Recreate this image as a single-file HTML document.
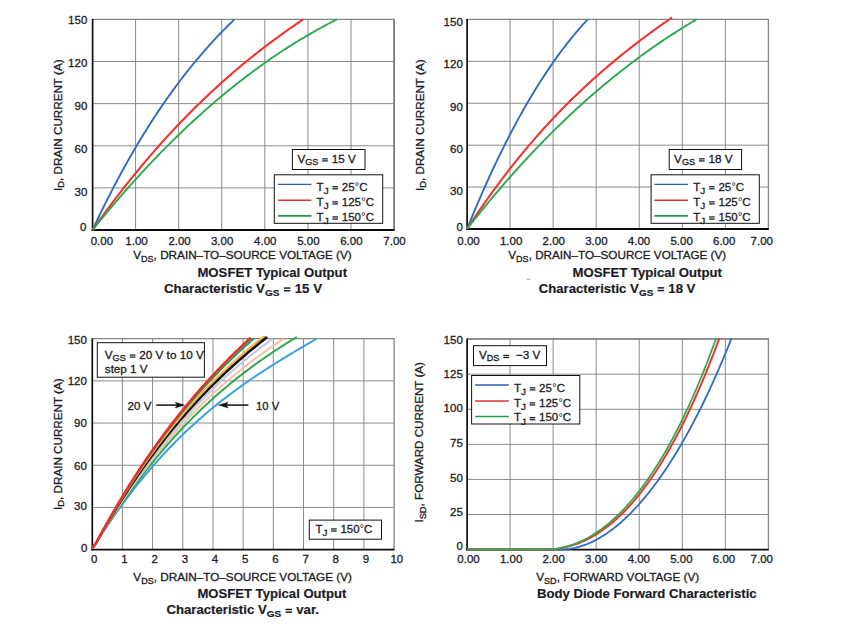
<!DOCTYPE html>
<html lang="en">
<head>
<meta charset="utf-8">
<title>MOSFET Typical Characteristics</title>
<style>
html,body{margin:0;padding:0;background:#ffffff;}
body{width:854px;height:639px;overflow:hidden;font-family:"Liberation Sans",sans-serif;}
svg{display:block;font-family:"Liberation Sans",sans-serif;}
svg text{font-family:"Liberation Sans",sans-serif;white-space:pre;}
</style>
</head>
<body>
<svg width="854" height="639" viewBox="0 0 854 639">
<rect x="0" y="0" width="854" height="639" fill="#ffffff"/>
<line x1="135.59" y1="19.40" x2="135.59" y2="230.00" stroke="#858585" stroke-width="0.95" stroke-linecap="butt"/>
<line x1="178.67" y1="19.40" x2="178.67" y2="230.00" stroke="#858585" stroke-width="0.95" stroke-linecap="butt"/>
<line x1="221.76" y1="19.40" x2="221.76" y2="230.00" stroke="#858585" stroke-width="0.95" stroke-linecap="butt"/>
<line x1="264.84" y1="19.40" x2="264.84" y2="230.00" stroke="#858585" stroke-width="0.95" stroke-linecap="butt"/>
<line x1="307.93" y1="19.40" x2="307.93" y2="230.00" stroke="#858585" stroke-width="0.95" stroke-linecap="butt"/>
<line x1="351.01" y1="19.40" x2="351.01" y2="230.00" stroke="#858585" stroke-width="0.95" stroke-linecap="butt"/>
<line x1="92.50" y1="61.52" x2="394.10" y2="61.52" stroke="#858585" stroke-width="0.95" stroke-linecap="butt"/>
<line x1="92.50" y1="103.64" x2="394.10" y2="103.64" stroke="#858585" stroke-width="0.95" stroke-linecap="butt"/>
<line x1="92.50" y1="145.76" x2="394.10" y2="145.76" stroke="#858585" stroke-width="0.95" stroke-linecap="butt"/>
<line x1="92.50" y1="187.88" x2="394.10" y2="187.88" stroke="#858585" stroke-width="0.95" stroke-linecap="butt"/>
<line x1="92.50" y1="19.40" x2="394.70" y2="19.40" stroke="#858585" stroke-width="1.20" stroke-linecap="butt"/>
<line x1="394.10" y1="19.40" x2="394.10" y2="230.00" stroke="#727272" stroke-width="1.70" stroke-linecap="butt"/>
<line x1="92.60" y1="18.90" x2="92.60" y2="230.90" stroke="#0d0d0d" stroke-width="1.70" stroke-linecap="butt"/>
<line x1="91.60" y1="230.00" x2="394.50" y2="230.00" stroke="#0d0d0d" stroke-width="1.90" stroke-linecap="butt"/>
<path d="M92.50,230.00 L94.01,226.78 L95.52,223.59 L97.03,220.42 L98.54,217.28 L100.05,214.16 L101.56,211.06 L103.07,207.99 L104.58,204.95 L106.09,201.93 L107.60,198.93 L109.11,195.96 L110.61,193.01 L112.12,190.08 L113.63,187.18 L115.14,184.30 L116.65,181.44 L118.16,178.61 L119.67,175.80 L121.18,173.02 L122.69,170.25 L124.20,167.51 L125.71,164.79 L127.22,162.10 L128.73,159.42 L130.24,156.77 L131.75,154.14 L133.26,151.53 L134.77,148.94 L136.28,146.38 L137.79,143.83 L139.30,141.31 L140.81,138.81 L142.32,136.33 L143.83,133.87 L145.34,131.43 L146.84,129.01 L148.35,126.61 L149.86,124.24 L151.37,121.88 L152.88,119.54 L154.39,117.22 L155.90,114.92 L157.41,112.65 L158.92,110.39 L160.43,108.15 L161.94,105.93 L163.45,103.73 L164.96,101.55 L166.47,99.38 L167.98,97.24 L169.49,95.11 L171.00,93.01 L172.51,90.92 L174.02,88.85 L175.53,86.79 L177.04,84.76 L178.55,82.74 L180.06,80.74 L181.56,78.76 L183.07,76.80 L184.58,74.85 L186.09,72.92 L187.60,71.01 L189.11,69.11 L190.62,67.23 L192.13,65.37 L193.64,63.52 L195.15,61.69 L196.66,59.88 L198.17,58.08 L199.68,56.30 L201.19,54.53 L202.70,52.78 L204.21,51.05 L205.72,49.33 L207.23,47.62 L208.74,45.93 L210.25,44.26 L211.76,42.60 L213.27,40.95 L214.78,39.32 L216.29,37.71 L217.79,36.11 L219.30,34.52 L220.81,32.95 L222.32,31.39 L223.83,29.84 L225.34,28.31 L226.85,26.79 L228.36,25.29 L229.87,23.80 L231.38,22.32 L232.89,20.85 L234.40,19.40" fill="none" stroke="#2f6cc0" stroke-width="1.90" stroke-linejoin="round" stroke-linecap="butt"/>
<path d="M92.50,230.00 L94.01,227.87 L95.51,225.75 L97.02,223.64 L98.52,221.54 L100.03,219.46 L101.53,217.38 L103.04,215.32 L104.55,213.26 L106.05,211.22 L107.56,209.18 L109.06,207.16 L110.57,205.15 L112.07,203.14 L113.58,201.15 L115.09,199.17 L116.59,197.20 L118.10,195.23 L119.60,193.28 L121.11,191.34 L122.61,189.41 L124.12,187.49 L125.63,185.58 L127.13,183.68 L128.64,181.79 L130.14,179.90 L131.65,178.03 L133.15,176.17 L134.66,174.32 L136.17,172.48 L137.67,170.65 L139.18,168.82 L140.68,167.01 L142.19,165.21 L143.69,163.41 L145.20,161.63 L146.71,159.85 L148.21,158.09 L149.72,156.33 L151.22,154.58 L152.73,152.85 L154.23,151.12 L155.74,149.40 L157.25,147.69 L158.75,145.99 L160.26,144.30 L161.76,142.62 L163.27,140.94 L164.77,139.28 L166.28,137.62 L167.79,135.98 L169.29,134.34 L170.80,132.71 L172.30,131.09 L173.81,129.48 L175.31,127.88 L176.82,126.28 L178.33,124.70 L179.83,123.12 L181.34,121.55 L182.84,120.00 L184.35,118.44 L185.85,116.90 L187.36,115.37 L188.87,113.84 L190.37,112.33 L191.88,110.82 L193.38,109.32 L194.89,107.82 L196.39,106.34 L197.90,104.86 L199.41,103.39 L200.91,101.93 L202.42,100.48 L203.92,99.04 L205.43,97.60 L206.93,96.17 L208.44,94.75 L209.95,93.34 L211.45,91.94 L212.96,90.54 L214.46,89.15 L215.97,87.77 L217.47,86.39 L218.98,85.03 L220.49,83.67 L221.99,82.32 L223.50,80.97 L225.00,79.64 L226.51,78.31 L228.01,76.99 L229.52,75.67 L231.03,74.36 L232.53,73.06 L234.04,71.77 L235.54,70.49 L237.05,69.21 L238.55,67.94 L240.06,66.67 L241.57,65.41 L243.07,64.16 L244.58,62.92 L246.08,61.68 L247.59,60.45 L249.09,59.23 L250.60,58.01 L252.11,56.81 L253.61,55.60 L255.12,54.41 L256.62,53.22 L258.13,52.03 L259.63,50.86 L261.14,49.69 L262.65,48.52 L264.15,47.37 L265.66,46.21 L267.16,45.07 L268.67,43.93 L270.17,42.80 L271.68,41.67 L273.19,40.55 L274.69,39.44 L276.20,38.33 L277.70,37.23 L279.21,36.14 L280.71,35.05 L282.22,33.96 L283.73,32.89 L285.23,31.81 L286.74,30.75 L288.24,29.69 L289.75,28.63 L291.25,27.59 L292.76,26.54 L294.27,25.51 L295.77,24.47 L297.28,23.45 L298.78,22.43 L300.29,21.41 L301.79,20.40 L303.30,19.40" fill="none" stroke="#f0352f" stroke-width="2.10" stroke-linejoin="round" stroke-linecap="butt"/>
<path d="M92.50,230.00 L94.00,228.14 L95.50,226.28 L97.00,224.43 L98.50,222.59 L100.00,220.76 L101.50,218.93 L103.00,217.11 L104.50,215.30 L106.00,213.50 L107.50,211.70 L109.00,209.91 L110.50,208.13 L112.00,206.36 L113.50,204.59 L115.00,202.83 L116.50,201.08 L118.00,199.33 L119.50,197.60 L121.00,195.87 L122.50,194.14 L124.00,192.43 L125.50,190.72 L127.00,189.02 L128.50,187.33 L130.00,185.64 L131.50,183.96 L133.00,182.29 L134.50,180.63 L136.00,178.97 L137.50,177.32 L139.00,175.68 L140.50,174.04 L142.00,172.41 L143.50,170.79 L145.00,169.18 L146.50,167.57 L148.00,165.97 L149.50,164.38 L151.00,162.80 L152.50,161.22 L154.00,159.65 L155.50,158.09 L157.00,156.53 L158.50,154.98 L160.00,153.44 L161.50,151.90 L163.00,150.38 L164.50,148.86 L166.00,147.34 L167.50,145.84 L169.00,144.34 L170.50,142.84 L172.00,141.36 L173.50,139.88 L175.00,138.41 L176.50,136.95 L178.00,135.49 L179.50,134.04 L181.00,132.60 L182.50,131.16 L184.00,129.73 L185.50,128.31 L187.00,126.90 L188.50,125.49 L190.00,124.09 L191.50,122.69 L193.00,121.31 L194.50,119.93 L196.00,118.55 L197.50,117.19 L199.00,115.83 L200.50,114.48 L202.00,113.13 L203.50,111.79 L205.00,110.46 L206.50,109.14 L208.00,107.82 L209.50,106.51 L211.00,105.20 L212.50,103.91 L214.00,102.62 L215.50,101.33 L217.00,100.06 L218.50,98.79 L220.00,97.53 L221.50,96.27 L223.00,95.02 L224.50,93.78 L226.00,92.54 L227.50,91.31 L229.00,90.09 L230.50,88.88 L232.00,87.67 L233.50,86.47 L235.00,85.27 L236.50,84.08 L238.00,82.90 L239.50,81.73 L241.00,80.56 L242.50,79.40 L244.00,78.24 L245.50,77.09 L247.00,75.95 L248.50,74.82 L250.00,73.69 L251.50,72.57 L253.00,71.45 L254.50,70.34 L256.00,69.24 L257.50,68.15 L259.00,67.06 L260.50,65.98 L262.00,64.90 L263.50,63.84 L265.00,62.77 L266.50,61.72 L268.00,60.67 L269.50,59.63 L271.00,58.59 L272.50,57.56 L274.00,56.54 L275.50,55.52 L277.00,54.51 L278.50,53.51 L280.00,52.52 L281.50,51.53 L283.00,50.54 L284.50,49.57 L286.00,48.60 L287.50,47.63 L289.00,46.67 L290.50,45.72 L292.00,44.78 L293.50,43.84 L295.00,42.91 L296.50,41.98 L298.00,41.06 L299.50,40.15 L301.00,39.25 L302.50,38.35 L304.00,37.45 L305.50,36.57 L307.00,35.68 L308.50,34.81 L310.00,33.94 L311.50,33.08 L313.00,32.23 L314.50,31.38 L316.00,30.53 L317.50,29.70 L319.00,28.87 L320.50,28.04 L322.00,27.23 L323.50,26.42 L325.00,25.61 L326.50,24.81 L328.00,24.02 L329.50,23.23 L331.00,22.45 L332.50,21.68 L334.00,20.91 L335.50,20.15 L337.00,19.40" fill="none" stroke="#2ea84e" stroke-width="1.90" stroke-linejoin="round" stroke-linecap="butt"/>
<g transform="translate(68.11,23.80) scale(1.0000,1)" fill="#1b1b26" stroke="#1b1b26" stroke-width="0.30" font-size="11.50"><text x="0.00" y="0" xml:space="preserve">150</text></g>
<g transform="translate(68.11,67.00) scale(1.0000,1)" fill="#1b1b26" stroke="#1b1b26" stroke-width="0.30" font-size="11.50"><text x="0.00" y="0" xml:space="preserve">120</text></g>
<g transform="translate(74.51,110.40) scale(1.0000,1)" fill="#1b1b26" stroke="#1b1b26" stroke-width="0.30" font-size="11.50"><text x="0.00" y="0" xml:space="preserve">90</text></g>
<g transform="translate(74.51,152.60) scale(1.0000,1)" fill="#1b1b26" stroke="#1b1b26" stroke-width="0.30" font-size="11.50"><text x="0.00" y="0" xml:space="preserve">60</text></g>
<g transform="translate(74.51,195.50) scale(1.0000,1)" fill="#1b1b26" stroke="#1b1b26" stroke-width="0.30" font-size="11.50"><text x="0.00" y="0" xml:space="preserve">30</text></g>
<g transform="translate(80.00,231.30) scale(1.0000,1)" fill="#1b1b26" stroke="#1b1b26" stroke-width="0.30" font-size="11.50"><text x="0.00" y="0" xml:space="preserve">0</text></g>
<g transform="translate(90.71,245.00) scale(1.0000,1)" fill="#1b1b26" stroke="#1b1b26" stroke-width="0.30" font-size="11.50"><text x="0.00" y="0" xml:space="preserve">0.00</text></g>
<g transform="translate(125.29,245.00) scale(1.0000,1)" fill="#1b1b26" stroke="#1b1b26" stroke-width="0.30" font-size="11.50"><text x="0.00" y="0" xml:space="preserve">1.00</text></g>
<g transform="translate(168.38,245.00) scale(1.0000,1)" fill="#1b1b26" stroke="#1b1b26" stroke-width="0.30" font-size="11.50"><text x="0.00" y="0" xml:space="preserve">2.00</text></g>
<g transform="translate(210.96,245.00) scale(1.0000,1)" fill="#1b1b26" stroke="#1b1b26" stroke-width="0.30" font-size="11.50"><text x="0.00" y="0" xml:space="preserve">3.00</text></g>
<g transform="translate(254.05,245.00) scale(1.0000,1)" fill="#1b1b26" stroke="#1b1b26" stroke-width="0.30" font-size="11.50"><text x="0.00" y="0" xml:space="preserve">4.00</text></g>
<g transform="translate(297.14,245.00) scale(1.0000,1)" fill="#1b1b26" stroke="#1b1b26" stroke-width="0.30" font-size="11.50"><text x="0.00" y="0" xml:space="preserve">5.00</text></g>
<g transform="translate(340.22,245.00) scale(1.0000,1)" fill="#1b1b26" stroke="#1b1b26" stroke-width="0.30" font-size="11.50"><text x="0.00" y="0" xml:space="preserve">6.00</text></g>
<g transform="translate(383.31,245.00) scale(1.0000,1)" fill="#1b1b26" stroke="#1b1b26" stroke-width="0.30" font-size="11.50"><text x="0.00" y="0" xml:space="preserve">7.00</text></g>
<g transform="translate(61.50,191.00) rotate(-90) scale(1.0140,1)" fill="#1b1b26" stroke="#1b1b26" stroke-width="0.30" font-size="11.50"><text x="0.00" y="0" xml:space="preserve">I</text><text x="3.20" y="2.60" font-size="9.20" xml:space="preserve">D</text><text x="9.88" y="0" xml:space="preserve">, DRAIN CURRENT (A)</text></g>
<g transform="translate(133.20,259.20) scale(1.0207,1)" fill="#1b1b26" stroke="#1b1b26" stroke-width="0.30" font-size="11.50"><text x="0.00" y="0" xml:space="preserve">V</text><text x="7.67" y="2.90" font-size="8.86" xml:space="preserve">DS</text><text x="20.00" y="0" xml:space="preserve">, DRAIN–TO–SOURCE VOLTAGE (V)</text></g>
<g transform="translate(197.40,276.80) scale(1.0127,1)" fill="#1b1b26" stroke="#1b1b26" stroke-width="0.18" font-size="13.00" font-weight="bold"><text x="0.00" y="0" xml:space="preserve">MOSFET Typical Output</text></g>
<g transform="translate(164.00,292.90) scale(1.0205,1)" fill="#1b1b26" stroke="#1b1b26" stroke-width="0.18" font-size="13.00" font-weight="bold"><text x="0.00" y="0" xml:space="preserve">Characteristic V</text><text x="99.00" y="3.00" font-size="9.88" xml:space="preserve">GS</text><text x="113.26" y="0" xml:space="preserve"> </text><rect x="117.49" y="-2.87" width="6.37" height="1.46" stroke="none"/><rect x="117.49" y="-5.56" width="6.37" height="1.46" stroke="none"/><text x="124.47" y="0" xml:space="preserve"> 15 V</text></g>
<rect x="292.40" y="149.50" width="72.60" height="20.00" fill="#fff" stroke="#111" stroke-width="1.00"/>
<g transform="translate(297.40,162.60) scale(1.0150,1)" fill="#1b1b26" stroke="#1b1b26" stroke-width="0.30" font-size="11.50"><text x="0.00" y="0" xml:space="preserve">V</text><text x="7.67" y="1.90" font-size="8.97" xml:space="preserve">GS</text><text x="20.67" y="0" xml:space="preserve"> </text><rect x="24.44" y="-2.30" width="5.58" height="1.24" stroke="none"/><rect x="24.44" y="-4.36" width="5.58" height="1.24" stroke="none"/><text x="30.59" y="0" xml:space="preserve"> 15 V</text></g>
<rect x="274.30" y="174.80" width="108.40" height="48.50" fill="#fff" stroke="#111" stroke-width="1.00"/>
<line x1="278.10" y1="184.30" x2="311.40" y2="184.30" stroke="#2a5fb0" stroke-width="1.35" stroke-linecap="butt"/>
<line x1="278.10" y1="200.30" x2="311.40" y2="200.30" stroke="#e8302c" stroke-width="1.40" stroke-linecap="butt"/>
<line x1="278.10" y1="215.90" x2="311.40" y2="215.90" stroke="#279a48" stroke-width="1.60" stroke-linecap="butt"/>
<g transform="translate(316.60,190.50) scale(1.0026,1)" fill="#1b1b26" stroke="#1b1b26" stroke-width="0.30" font-size="11.50"><text x="0.00" y="0" xml:space="preserve">T</text><text x="7.03" y="3.40" font-size="9.89" xml:space="preserve">J</text><text x="11.96" y="0" xml:space="preserve"> </text><rect x="15.73" y="-2.30" width="5.58" height="1.24" stroke="none"/><rect x="15.73" y="-4.36" width="5.58" height="1.24" stroke="none"/><text x="21.88" y="0" xml:space="preserve"> 25</text><text x="38.09" y="-0.40" font-size="10.81" stroke-width="0.05">°</text><text x="42.46" y="0" xml:space="preserve">C</text></g>
<g transform="translate(316.60,205.60) scale(1.0041,1)" fill="#1b1b26" stroke="#1b1b26" stroke-width="0.30" font-size="11.50"><text x="0.00" y="0" xml:space="preserve">T</text><text x="7.03" y="3.40" font-size="9.89" xml:space="preserve">J</text><text x="11.96" y="0" xml:space="preserve"> </text><rect x="15.73" y="-2.30" width="5.58" height="1.24" stroke="none"/><rect x="15.73" y="-4.36" width="5.58" height="1.24" stroke="none"/><text x="21.88" y="0" xml:space="preserve"> 125</text><text x="44.49" y="-0.40" font-size="10.81" stroke-width="0.05">°</text><text x="48.86" y="0" xml:space="preserve">C</text></g>
<g transform="translate(316.60,220.70) scale(1.0041,1)" fill="#1b1b26" stroke="#1b1b26" stroke-width="0.30" font-size="11.50"><text x="0.00" y="0" xml:space="preserve">T</text><text x="7.03" y="3.40" font-size="9.89" xml:space="preserve">J</text><text x="11.96" y="0" xml:space="preserve"> </text><rect x="15.73" y="-2.30" width="5.58" height="1.24" stroke="none"/><rect x="15.73" y="-4.36" width="5.58" height="1.24" stroke="none"/><text x="21.88" y="0" xml:space="preserve"> 150</text><text x="44.49" y="-0.40" font-size="10.81" stroke-width="0.05">°</text><text x="48.86" y="0" xml:space="preserve">C</text></g>
<line x1="510.06" y1="19.40" x2="510.06" y2="229.00" stroke="#858585" stroke-width="0.95" stroke-linecap="butt"/>
<line x1="553.11" y1="19.40" x2="553.11" y2="229.00" stroke="#858585" stroke-width="0.95" stroke-linecap="butt"/>
<line x1="596.17" y1="19.40" x2="596.17" y2="229.00" stroke="#858585" stroke-width="0.95" stroke-linecap="butt"/>
<line x1="639.23" y1="19.40" x2="639.23" y2="229.00" stroke="#858585" stroke-width="0.95" stroke-linecap="butt"/>
<line x1="682.29" y1="19.40" x2="682.29" y2="229.00" stroke="#858585" stroke-width="0.95" stroke-linecap="butt"/>
<line x1="725.34" y1="19.40" x2="725.34" y2="229.00" stroke="#858585" stroke-width="0.95" stroke-linecap="butt"/>
<line x1="467.00" y1="61.32" x2="768.40" y2="61.32" stroke="#858585" stroke-width="0.95" stroke-linecap="butt"/>
<line x1="467.00" y1="103.24" x2="768.40" y2="103.24" stroke="#858585" stroke-width="0.95" stroke-linecap="butt"/>
<line x1="467.00" y1="145.16" x2="768.40" y2="145.16" stroke="#858585" stroke-width="0.95" stroke-linecap="butt"/>
<line x1="467.00" y1="187.08" x2="768.40" y2="187.08" stroke="#858585" stroke-width="0.95" stroke-linecap="butt"/>
<line x1="467.00" y1="19.40" x2="769.00" y2="19.40" stroke="#858585" stroke-width="1.20" stroke-linecap="butt"/>
<line x1="768.40" y1="19.40" x2="768.40" y2="229.00" stroke="#858585" stroke-width="1.30" stroke-linecap="butt"/>
<line x1="467.10" y1="18.90" x2="467.10" y2="229.90" stroke="#0d0d0d" stroke-width="1.70" stroke-linecap="butt"/>
<line x1="466.10" y1="229.00" x2="768.80" y2="229.00" stroke="#0d0d0d" stroke-width="1.90" stroke-linecap="butt"/>
<path d="M467.00,229.00 L468.51,225.27 L470.02,221.57 L471.53,217.91 L473.04,214.27 L474.55,210.66 L476.06,207.09 L477.57,203.54 L479.08,200.03 L480.59,196.54 L482.10,193.09 L483.61,189.66 L485.12,186.26 L486.63,182.90 L488.14,179.56 L489.65,176.26 L491.16,172.98 L492.67,169.73 L494.18,166.51 L495.69,163.32 L497.20,160.16 L498.71,157.03 L500.22,153.92 L501.73,150.85 L503.24,147.80 L504.75,144.78 L506.26,141.79 L507.77,138.83 L509.28,135.89 L510.79,132.99 L512.30,130.11 L513.81,127.26 L515.32,124.44 L516.83,121.64 L518.34,118.87 L519.85,116.13 L521.36,113.42 L522.87,110.73 L524.38,108.07 L525.89,105.44 L527.40,102.83 L528.91,100.25 L530.42,97.70 L531.93,95.17 L533.44,92.67 L534.95,90.20 L536.46,87.75 L537.97,85.33 L539.48,82.93 L540.99,80.56 L542.50,78.22 L544.01,75.90 L545.52,73.61 L547.03,71.34 L548.54,69.10 L550.05,66.88 L551.56,64.69 L553.07,62.52 L554.58,60.38 L556.09,58.26 L557.60,56.17 L559.11,54.10 L560.62,52.05 L562.13,50.03 L563.64,48.04 L565.15,46.06 L566.66,44.12 L568.17,42.19 L569.68,40.29 L571.19,38.41 L572.70,36.56 L574.21,34.73 L575.72,32.93 L577.23,31.14 L578.74,29.38 L580.25,27.64 L581.76,25.93 L583.27,24.24 L584.78,22.57 L586.29,20.92 L587.80,19.30" fill="none" stroke="#2f6cc0" stroke-width="1.90" stroke-linejoin="round" stroke-linecap="butt"/>
<path d="M467.00,229.00 L468.51,226.69 L470.02,224.40 L471.52,222.12 L473.03,219.86 L474.54,217.61 L476.05,215.38 L477.56,213.16 L479.06,210.95 L480.57,208.76 L482.08,206.58 L483.59,204.42 L485.10,202.27 L486.61,200.13 L488.11,198.01 L489.62,195.90 L491.13,193.81 L492.64,191.72 L494.15,189.66 L495.65,187.60 L497.16,185.56 L498.67,183.53 L500.18,181.52 L501.69,179.51 L503.19,177.52 L504.70,175.55 L506.21,173.58 L507.72,171.63 L509.23,169.69 L510.73,167.77 L512.24,165.85 L513.75,163.95 L515.26,162.06 L516.77,160.18 L518.27,158.32 L519.78,156.47 L521.29,154.63 L522.80,152.80 L524.31,150.98 L525.82,149.18 L527.32,147.38 L528.83,145.60 L530.34,143.83 L531.85,142.07 L533.36,140.32 L534.86,138.59 L536.37,136.86 L537.88,135.15 L539.39,133.44 L540.90,131.75 L542.40,130.07 L543.91,128.40 L545.42,126.74 L546.93,125.09 L548.44,123.45 L549.94,121.82 L551.45,120.20 L552.96,118.60 L554.47,117.00 L555.98,115.41 L557.49,113.83 L558.99,112.27 L560.50,110.71 L562.01,109.16 L563.52,107.62 L565.03,106.09 L566.53,104.58 L568.04,103.07 L569.55,101.57 L571.06,100.08 L572.57,98.60 L574.07,97.12 L575.58,95.66 L577.09,94.21 L578.60,92.76 L580.11,91.33 L581.61,89.90 L583.12,88.48 L584.63,87.07 L586.14,85.67 L587.65,84.28 L589.16,82.90 L590.66,81.52 L592.17,80.15 L593.68,78.79 L595.19,77.44 L596.70,76.10 L598.20,74.76 L599.71,73.44 L601.22,72.12 L602.73,70.80 L604.24,69.50 L605.74,68.20 L607.25,66.91 L608.76,65.63 L610.27,64.36 L611.78,63.09 L613.28,61.83 L614.79,60.57 L616.30,59.33 L617.81,58.09 L619.32,56.86 L620.83,55.63 L622.33,54.41 L623.84,53.20 L625.35,51.99 L626.86,50.79 L628.37,49.60 L629.87,48.41 L631.38,47.23 L632.89,46.06 L634.40,44.89 L635.91,43.72 L637.41,42.57 L638.92,41.42 L640.43,40.27 L641.94,39.13 L643.45,38.00 L644.95,36.87 L646.46,35.74 L647.97,34.63 L649.48,33.51 L650.99,32.40 L652.49,31.30 L654.00,30.20 L655.51,29.11 L657.02,28.02 L658.53,26.94 L660.04,25.86 L661.54,24.79 L663.05,23.72 L664.56,22.65 L666.07,21.59 L667.58,20.54 L669.08,19.49 L670.59,18.44 L672.10,17.39" fill="none" stroke="#f0352f" stroke-width="2.10" stroke-linejoin="round" stroke-linecap="butt"/>
<path d="M467.00,229.00 L468.50,227.08 L470.00,225.16 L471.50,223.26 L473.01,221.36 L474.51,219.47 L476.01,217.58 L477.51,215.71 L479.01,213.84 L480.51,211.98 L482.01,210.13 L483.51,208.29 L485.02,206.46 L486.52,204.63 L488.02,202.81 L489.52,201.00 L491.02,199.20 L492.52,197.40 L494.02,195.62 L495.52,193.84 L497.03,192.07 L498.53,190.30 L500.03,188.55 L501.53,186.80 L503.03,185.06 L504.53,183.33 L506.03,181.60 L507.54,179.89 L509.04,178.18 L510.54,176.48 L512.04,174.78 L513.54,173.10 L515.04,171.42 L516.54,169.75 L518.04,168.08 L519.55,166.43 L521.05,164.78 L522.55,163.14 L524.05,161.51 L525.55,159.88 L527.05,158.26 L528.55,156.65 L530.05,155.05 L531.56,153.45 L533.06,151.86 L534.56,150.28 L536.06,148.71 L537.56,147.14 L539.06,145.58 L540.56,144.03 L542.07,142.49 L543.57,140.95 L545.07,139.42 L546.57,137.90 L548.07,136.38 L549.57,134.87 L551.07,133.37 L552.57,131.88 L554.08,130.39 L555.58,128.91 L557.08,127.44 L558.58,125.98 L560.08,124.52 L561.58,123.07 L563.08,121.62 L564.58,120.19 L566.09,118.76 L567.59,117.33 L569.09,115.92 L570.59,114.51 L572.09,113.11 L573.59,111.71 L575.09,110.32 L576.60,108.94 L578.10,107.57 L579.60,106.20 L581.10,104.84 L582.60,103.49 L584.10,102.14 L585.60,100.80 L587.10,99.47 L588.61,98.14 L590.11,96.82 L591.61,95.51 L593.11,94.20 L594.61,92.90 L596.11,91.61 L597.61,90.32 L599.12,89.04 L600.62,87.77 L602.12,86.51 L603.62,85.25 L605.12,83.99 L606.62,82.75 L608.12,81.51 L609.62,80.27 L611.13,79.04 L612.63,77.82 L614.13,76.61 L615.63,75.40 L617.13,74.20 L618.63,73.01 L620.13,71.82 L621.63,70.64 L623.14,69.46 L624.64,68.29 L626.14,67.13 L627.64,65.97 L629.14,64.82 L630.64,63.68 L632.14,62.54 L633.65,61.41 L635.15,60.28 L636.65,59.16 L638.15,58.05 L639.65,56.94 L641.15,55.84 L642.65,54.75 L644.15,53.66 L645.66,52.58 L647.16,51.50 L648.66,50.43 L650.16,49.37 L651.66,48.31 L653.16,47.26 L654.66,46.21 L656.16,45.17 L657.67,44.14 L659.17,43.11 L660.67,42.09 L662.17,41.07 L663.67,40.06 L665.17,39.06 L666.67,38.06 L668.18,37.07 L669.68,36.08 L671.18,35.10 L672.68,34.12 L674.18,33.15 L675.68,32.19 L677.18,31.23 L678.68,30.28 L680.19,29.33 L681.69,28.39 L683.19,27.46 L684.69,26.53 L686.19,25.60 L687.69,24.69 L689.19,23.77 L690.69,22.87 L692.20,21.96 L693.70,21.07 L695.20,20.18 L696.70,19.29" fill="none" stroke="#2ea84e" stroke-width="1.90" stroke-linejoin="round" stroke-linecap="butt"/>
<g transform="translate(443.61,25.80) scale(1.0000,1)" fill="#1b1b26" stroke="#1b1b26" stroke-width="0.30" font-size="11.50"><text x="0.00" y="0" xml:space="preserve">150</text></g>
<g transform="translate(443.61,68.30) scale(1.0000,1)" fill="#1b1b26" stroke="#1b1b26" stroke-width="0.30" font-size="11.50"><text x="0.00" y="0" xml:space="preserve">120</text></g>
<g transform="translate(450.01,111.00) scale(1.0000,1)" fill="#1b1b26" stroke="#1b1b26" stroke-width="0.30" font-size="11.50"><text x="0.00" y="0" xml:space="preserve">90</text></g>
<g transform="translate(450.01,153.30) scale(1.0000,1)" fill="#1b1b26" stroke="#1b1b26" stroke-width="0.30" font-size="11.50"><text x="0.00" y="0" xml:space="preserve">60</text></g>
<g transform="translate(450.01,195.20) scale(1.0000,1)" fill="#1b1b26" stroke="#1b1b26" stroke-width="0.30" font-size="11.50"><text x="0.00" y="0" xml:space="preserve">30</text></g>
<g transform="translate(456.40,230.70) scale(1.0000,1)" fill="#1b1b26" stroke="#1b1b26" stroke-width="0.30" font-size="11.50"><text x="0.00" y="0" xml:space="preserve">0</text></g>
<g transform="translate(457.31,244.90) scale(1.0000,1)" fill="#1b1b26" stroke="#1b1b26" stroke-width="0.30" font-size="11.50"><text x="0.00" y="0" xml:space="preserve">0.00</text></g>
<g transform="translate(499.93,244.90) scale(1.0000,1)" fill="#1b1b26" stroke="#1b1b26" stroke-width="0.30" font-size="11.50"><text x="0.00" y="0" xml:space="preserve">1.00</text></g>
<g transform="translate(542.55,244.90) scale(1.0000,1)" fill="#1b1b26" stroke="#1b1b26" stroke-width="0.30" font-size="11.50"><text x="0.00" y="0" xml:space="preserve">2.00</text></g>
<g transform="translate(585.17,244.90) scale(1.0000,1)" fill="#1b1b26" stroke="#1b1b26" stroke-width="0.30" font-size="11.50"><text x="0.00" y="0" xml:space="preserve">3.00</text></g>
<g transform="translate(627.79,244.90) scale(1.0000,1)" fill="#1b1b26" stroke="#1b1b26" stroke-width="0.30" font-size="11.50"><text x="0.00" y="0" xml:space="preserve">4.00</text></g>
<g transform="translate(670.41,244.90) scale(1.0000,1)" fill="#1b1b26" stroke="#1b1b26" stroke-width="0.30" font-size="11.50"><text x="0.00" y="0" xml:space="preserve">5.00</text></g>
<g transform="translate(713.03,244.90) scale(1.0000,1)" fill="#1b1b26" stroke="#1b1b26" stroke-width="0.30" font-size="11.50"><text x="0.00" y="0" xml:space="preserve">6.00</text></g>
<g transform="translate(750.56,244.90) scale(1.0000,1)" fill="#1b1b26" stroke="#1b1b26" stroke-width="0.30" font-size="11.50"><text x="0.00" y="0" xml:space="preserve">7.00</text></g>
<g transform="translate(423.50,191.00) rotate(-90) scale(1.0140,1)" fill="#1b1b26" stroke="#1b1b26" stroke-width="0.30" font-size="11.50"><text x="0.00" y="0" xml:space="preserve">I</text><text x="3.20" y="2.60" font-size="9.20" xml:space="preserve">D</text><text x="9.88" y="0" xml:space="preserve">, DRAIN CURRENT (A)</text></g>
<g transform="translate(508.30,259.00) scale(1.0174,1)" fill="#1b1b26" stroke="#1b1b26" stroke-width="0.30" font-size="11.50"><text x="0.00" y="0" xml:space="preserve">V</text><text x="7.67" y="2.90" font-size="8.86" xml:space="preserve">DS</text><text x="20.00" y="0" xml:space="preserve">, DRAIN–TO–SOURCE VOLTAGE (V)</text></g>
<g transform="translate(572.50,276.60) scale(1.0114,1)" fill="#1b1b26" stroke="#1b1b26" stroke-width="0.18" font-size="13.00" font-weight="bold"><text x="0.00" y="0" xml:space="preserve">MOSFET Typical Output</text></g>
<g transform="translate(538.80,292.70) scale(1.0115,1)" fill="#1b1b26" stroke="#1b1b26" stroke-width="0.18" font-size="13.00" font-weight="bold"><text x="0.00" y="0" xml:space="preserve">Characteristic V</text><text x="99.00" y="3.00" font-size="9.88" xml:space="preserve">GS</text><text x="113.26" y="0" xml:space="preserve"> </text><rect x="117.49" y="-2.87" width="6.37" height="1.46" stroke="none"/><rect x="117.49" y="-5.56" width="6.37" height="1.46" stroke="none"/><text x="124.47" y="0" xml:space="preserve"> 18 V</text></g>
<line x1="526.70" y1="279.20" x2="530.40" y2="279.20" stroke="#9a9a9a" stroke-width="0.90" stroke-linecap="butt"/>
<rect x="669.20" y="149.50" width="72.40" height="20.00" fill="#fff" stroke="#111" stroke-width="1.00"/>
<g transform="translate(674.10,162.60) scale(1.0185,1)" fill="#1b1b26" stroke="#1b1b26" stroke-width="0.30" font-size="11.50"><text x="0.00" y="0" xml:space="preserve">V</text><text x="7.67" y="1.90" font-size="8.97" xml:space="preserve">GS</text><text x="20.67" y="0" xml:space="preserve"> </text><rect x="24.44" y="-2.30" width="5.58" height="1.24" stroke="none"/><rect x="24.44" y="-4.36" width="5.58" height="1.24" stroke="none"/><text x="30.59" y="0" xml:space="preserve"> 18 V</text></g>
<rect x="651.10" y="174.80" width="108.20" height="48.50" fill="#fff" stroke="#111" stroke-width="1.00"/>
<line x1="654.40" y1="184.30" x2="687.90" y2="184.30" stroke="#2a5fb0" stroke-width="1.35" stroke-linecap="butt"/>
<line x1="654.40" y1="200.30" x2="687.90" y2="200.30" stroke="#e8302c" stroke-width="1.40" stroke-linecap="butt"/>
<line x1="654.40" y1="215.90" x2="687.90" y2="215.90" stroke="#279a48" stroke-width="1.60" stroke-linecap="butt"/>
<g transform="translate(693.30,190.50) scale(1.0006,1)" fill="#1b1b26" stroke="#1b1b26" stroke-width="0.30" font-size="11.50"><text x="0.00" y="0" xml:space="preserve">T</text><text x="7.03" y="3.40" font-size="9.89" xml:space="preserve">J</text><text x="11.96" y="0" xml:space="preserve"> </text><rect x="15.73" y="-2.30" width="5.58" height="1.24" stroke="none"/><rect x="15.73" y="-4.36" width="5.58" height="1.24" stroke="none"/><text x="21.88" y="0" xml:space="preserve"> 25</text><text x="38.09" y="-0.40" font-size="10.81" stroke-width="0.05">°</text><text x="42.46" y="0" xml:space="preserve">C</text></g>
<g transform="translate(693.30,205.60) scale(1.0041,1)" fill="#1b1b26" stroke="#1b1b26" stroke-width="0.30" font-size="11.50"><text x="0.00" y="0" xml:space="preserve">T</text><text x="7.03" y="3.40" font-size="9.89" xml:space="preserve">J</text><text x="11.96" y="0" xml:space="preserve"> </text><rect x="15.73" y="-2.30" width="5.58" height="1.24" stroke="none"/><rect x="15.73" y="-4.36" width="5.58" height="1.24" stroke="none"/><text x="21.88" y="0" xml:space="preserve"> 125</text><text x="44.49" y="-0.40" font-size="10.81" stroke-width="0.05">°</text><text x="48.86" y="0" xml:space="preserve">C</text></g>
<g transform="translate(693.30,220.70) scale(1.0041,1)" fill="#1b1b26" stroke="#1b1b26" stroke-width="0.30" font-size="11.50"><text x="0.00" y="0" xml:space="preserve">T</text><text x="7.03" y="3.40" font-size="9.89" xml:space="preserve">J</text><text x="11.96" y="0" xml:space="preserve"> </text><rect x="15.73" y="-2.30" width="5.58" height="1.24" stroke="none"/><rect x="15.73" y="-4.36" width="5.58" height="1.24" stroke="none"/><text x="21.88" y="0" xml:space="preserve"> 150</text><text x="44.49" y="-0.40" font-size="10.81" stroke-width="0.05">°</text><text x="48.86" y="0" xml:space="preserve">C</text></g>
<line x1="122.39" y1="338.70" x2="122.39" y2="549.60" stroke="#858585" stroke-width="0.95" stroke-linecap="butt"/>
<line x1="152.58" y1="338.70" x2="152.58" y2="549.60" stroke="#858585" stroke-width="0.95" stroke-linecap="butt"/>
<line x1="182.77" y1="338.70" x2="182.77" y2="549.60" stroke="#858585" stroke-width="0.95" stroke-linecap="butt"/>
<line x1="212.96" y1="338.70" x2="212.96" y2="549.60" stroke="#858585" stroke-width="0.95" stroke-linecap="butt"/>
<line x1="243.15" y1="338.70" x2="243.15" y2="549.60" stroke="#858585" stroke-width="0.95" stroke-linecap="butt"/>
<line x1="273.34" y1="338.70" x2="273.34" y2="549.60" stroke="#858585" stroke-width="0.95" stroke-linecap="butt"/>
<line x1="303.53" y1="338.70" x2="303.53" y2="549.60" stroke="#858585" stroke-width="0.95" stroke-linecap="butt"/>
<line x1="333.72" y1="338.70" x2="333.72" y2="549.60" stroke="#858585" stroke-width="0.95" stroke-linecap="butt"/>
<line x1="363.91" y1="338.70" x2="363.91" y2="549.60" stroke="#858585" stroke-width="0.95" stroke-linecap="butt"/>
<line x1="92.20" y1="380.88" x2="394.10" y2="380.88" stroke="#858585" stroke-width="0.95" stroke-linecap="butt"/>
<line x1="92.20" y1="423.06" x2="394.10" y2="423.06" stroke="#858585" stroke-width="0.95" stroke-linecap="butt"/>
<line x1="92.20" y1="465.24" x2="394.10" y2="465.24" stroke="#858585" stroke-width="0.95" stroke-linecap="butt"/>
<line x1="92.20" y1="507.42" x2="394.10" y2="507.42" stroke="#858585" stroke-width="0.95" stroke-linecap="butt"/>
<line x1="92.20" y1="338.70" x2="394.70" y2="338.70" stroke="#858585" stroke-width="1.20" stroke-linecap="butt"/>
<line x1="394.10" y1="338.70" x2="394.10" y2="549.60" stroke="#858585" stroke-width="1.30" stroke-linecap="butt"/>
<line x1="92.30" y1="338.20" x2="92.30" y2="550.50" stroke="#0d0d0d" stroke-width="1.70" stroke-linecap="butt"/>
<line x1="91.30" y1="549.60" x2="394.50" y2="549.60" stroke="#0d0d0d" stroke-width="1.90" stroke-linecap="butt"/>
<path d="M92.20,548.60 L96.30,542.60 L97.81,540.23 L99.31,537.88 L100.82,535.55 L102.32,533.24 L103.83,530.95 L105.34,528.68 L106.84,526.43 L108.35,524.19 L109.86,521.98 L111.36,519.78 L112.87,517.60 L114.37,515.45 L115.88,513.30 L117.39,511.18 L118.89,509.08 L120.40,506.99 L121.90,504.92 L123.41,502.87 L124.92,500.83 L126.42,498.82 L127.93,496.82 L129.44,494.83 L130.94,492.87 L132.45,490.92 L133.95,488.99 L135.46,487.07 L136.97,485.17 L138.47,483.29 L139.98,481.42 L141.48,479.57 L142.99,477.74 L144.50,475.92 L146.00,474.11 L147.51,472.33 L149.02,470.55 L150.52,468.80 L152.03,467.05 L153.53,465.33 L155.04,463.61 L156.55,461.92 L158.05,460.23 L159.56,458.57 L161.07,456.91 L162.57,455.27 L164.08,453.65 L165.58,452.03 L167.09,450.44 L168.60,448.85 L170.10,447.28 L171.61,445.72 L173.11,444.18 L174.62,442.65 L176.13,441.13 L177.63,439.63 L179.14,438.13 L180.65,436.66 L182.15,435.19 L183.66,433.73 L185.16,432.29 L186.67,430.86 L188.18,429.44 L189.68,428.04 L191.19,426.64 L192.69,425.26 L194.20,423.89 L195.71,422.53 L197.21,421.18 L198.72,419.84 L200.23,418.52 L201.73,417.20 L203.24,415.89 L204.74,414.60 L206.25,413.32 L207.76,412.04 L209.26,410.78 L210.77,409.52 L212.27,408.28 L213.78,407.05 L215.29,405.82 L216.79,404.61 L218.30,403.40 L219.81,402.21 L221.31,401.02 L222.82,399.84 L224.32,398.67 L225.83,397.51 L227.34,396.36 L228.84,395.22 L230.35,394.08 L231.85,392.96 L233.36,391.84 L234.87,390.73 L236.37,389.63 L237.88,388.53 L239.39,387.44 L240.89,386.36 L242.40,385.29 L243.90,384.23 L245.41,383.17 L246.92,382.12 L248.42,381.07 L249.93,380.03 L251.43,379.00 L252.94,377.98 L254.45,376.96 L255.95,375.95 L257.46,374.94 L258.97,373.94 L260.47,372.94 L261.98,371.95 L263.48,370.97 L264.99,369.99 L266.50,369.02 L268.00,368.05 L269.51,367.09 L271.02,366.13 L272.52,365.18 L274.03,364.23 L275.53,363.28 L277.04,362.34 L278.55,361.41 L280.05,360.48 L281.56,359.55 L283.06,358.62 L284.57,357.70 L286.08,356.79 L287.58,355.87 L289.09,354.96 L290.60,354.06 L292.10,353.15 L293.61,352.25 L295.11,351.35 L296.62,350.46 L298.13,349.56 L299.63,348.67 L301.14,347.78 L302.64,346.90 L304.15,346.01 L305.66,345.13 L307.16,344.25 L308.67,343.37 L310.18,342.49 L311.68,341.62 L313.19,340.74 L314.69,339.87 L316.20,338.99" fill="none" stroke="#3a9fe6" stroke-width="2.00" stroke-linejoin="round" stroke-linecap="butt"/>
<path d="M92.20,548.60 L96.30,542.60 L97.81,540.14 L99.32,537.70 L100.82,535.28 L102.33,532.88 L103.84,530.49 L105.35,528.12 L106.85,525.77 L108.36,523.44 L109.87,521.13 L111.38,518.83 L112.88,516.55 L114.39,514.28 L115.90,512.03 L117.41,509.80 L118.91,507.59 L120.42,505.39 L121.93,503.21 L123.44,501.05 L124.94,498.90 L126.45,496.77 L127.96,494.65 L129.47,492.55 L130.97,490.47 L132.48,488.40 L133.99,486.35 L135.50,484.32 L137.00,482.29 L138.51,480.29 L140.02,478.30 L141.53,476.33 L143.03,474.37 L144.54,472.42 L146.05,470.50 L147.56,468.58 L149.06,466.68 L150.57,464.80 L152.08,462.93 L153.59,461.07 L155.09,459.23 L156.60,457.41 L158.11,455.60 L159.62,453.80 L161.12,452.02 L162.63,450.25 L164.14,448.49 L165.65,446.75 L167.15,445.02 L168.66,443.30 L170.17,441.60 L171.68,439.92 L173.18,438.24 L174.69,436.58 L176.20,434.93 L177.71,433.30 L179.21,431.67 L180.72,430.06 L182.23,428.47 L183.74,426.88 L185.24,425.31 L186.75,423.75 L188.26,422.21 L189.77,420.67 L191.27,419.15 L192.78,417.64 L194.29,416.14 L195.80,414.65 L197.30,413.18 L198.81,411.71 L200.32,410.26 L201.83,408.82 L203.33,407.39 L204.84,405.98 L206.35,404.57 L207.86,403.17 L209.36,401.79 L210.87,400.42 L212.38,399.05 L213.89,397.70 L215.39,396.36 L216.90,395.03 L218.41,393.71 L219.92,392.40 L221.42,391.10 L222.93,389.81 L224.44,388.53 L225.95,387.26 L227.45,386.00 L228.96,384.75 L230.47,383.51 L231.98,382.28 L233.48,381.06 L234.99,379.84 L236.50,378.64 L238.01,377.45 L239.51,376.26 L241.02,375.09 L242.53,373.92 L244.04,372.76 L245.54,371.61 L247.05,370.47 L248.56,369.34 L250.07,368.21 L251.57,367.10 L253.08,365.99 L254.59,364.89 L256.10,363.80 L257.60,362.72 L259.11,361.64 L260.62,360.57 L262.13,359.51 L263.63,358.46 L265.14,357.41 L266.65,356.37 L268.16,355.34 L269.66,354.32 L271.17,353.30 L272.68,352.29 L274.19,351.29 L275.69,350.29 L277.20,349.30 L278.71,348.32 L280.22,347.34 L281.72,346.37 L283.23,345.41 L284.74,344.45 L286.25,343.50 L287.75,342.56 L289.26,341.62 L290.77,340.68 L292.28,339.75 L293.78,338.83 L295.29,337.91 L296.80,337.00" fill="none" stroke="#2ea84e" stroke-width="2.00" stroke-linejoin="round" stroke-linecap="butt"/>
<path d="M92.20,548.60 L96.30,542.60 L97.80,540.05 L99.30,537.52 L100.80,535.02 L102.30,532.53 L103.80,530.06 L105.30,527.60 L106.81,525.17 L108.31,522.75 L109.81,520.36 L111.31,517.98 L112.81,515.62 L114.31,513.28 L115.81,510.95 L117.31,508.65 L118.81,506.36 L120.31,504.09 L121.81,501.84 L123.31,499.60 L124.82,497.39 L126.32,495.18 L127.82,493.00 L129.32,490.84 L130.82,488.69 L132.32,486.55 L133.82,484.44 L135.32,482.34 L136.82,480.26 L138.32,478.19 L139.82,476.14 L141.32,474.11 L142.82,472.09 L144.33,470.09 L145.83,468.10 L147.33,466.13 L148.83,464.17 L150.33,462.24 L151.83,460.31 L153.33,458.40 L154.83,456.51 L156.33,454.63 L157.83,452.77 L159.33,450.92 L160.83,449.09 L162.34,447.27 L163.84,445.46 L165.34,443.67 L166.84,441.90 L168.34,440.14 L169.84,438.39 L171.34,436.66 L172.84,434.94 L174.34,433.23 L175.84,431.54 L177.34,429.86 L178.84,428.19 L180.34,426.54 L181.85,424.90 L183.35,423.28 L184.85,421.67 L186.35,420.07 L187.85,418.48 L189.35,416.91 L190.85,415.34 L192.35,413.79 L193.85,412.26 L195.35,410.73 L196.85,409.22 L198.35,407.72 L199.86,406.23 L201.36,404.76 L202.86,403.29 L204.36,401.84 L205.86,400.39 L207.36,398.96 L208.86,397.54 L210.36,396.14 L211.86,394.74 L213.36,393.35 L214.86,391.98 L216.36,390.61 L217.86,389.26 L219.37,387.92 L220.87,386.58 L222.37,385.26 L223.87,383.95 L225.37,382.64 L226.87,381.35 L228.37,380.07 L229.87,378.79 L231.37,377.53 L232.87,376.28 L234.37,375.03 L235.87,373.80 L237.38,372.57 L238.88,371.35 L240.38,370.14 L241.88,368.95 L243.38,367.75 L244.88,366.57 L246.38,365.40 L247.88,364.23 L249.38,363.08 L250.88,361.93 L252.38,360.79 L253.88,359.66 L255.38,358.53 L256.89,357.41 L258.39,356.30 L259.89,355.20 L261.39,354.11 L262.89,353.02 L264.39,351.94 L265.89,350.87 L267.39,349.80 L268.89,348.74 L270.39,347.69 L271.89,346.65 L273.39,345.61 L274.90,344.57 L276.40,343.55 L277.90,342.53 L279.40,341.51 L280.90,340.51 L282.40,339.51 L283.90,338.51" fill="none" stroke="#f0c2a6" stroke-width="2.00" stroke-linejoin="round" stroke-linecap="butt"/>
<path d="M92.20,548.60 L96.30,542.60 L97.81,540.01 L99.32,537.44 L100.83,534.89 L102.34,532.35 L103.85,529.83 L105.36,527.33 L106.87,524.85 L108.38,522.38 L109.89,519.94 L111.40,517.50 L112.91,515.09 L114.42,512.69 L115.93,510.31 L117.44,507.95 L118.95,505.60 L120.46,503.27 L121.97,500.96 L123.48,498.66 L124.99,496.38 L126.51,494.11 L128.02,491.87 L129.53,489.63 L131.04,487.42 L132.55,485.22 L134.06,483.03 L135.57,480.87 L137.08,478.71 L138.59,476.58 L140.10,474.45 L141.61,472.35 L143.12,470.26 L144.63,468.18 L146.14,466.12 L147.65,464.08 L149.16,462.04 L150.67,460.03 L152.18,458.03 L153.69,456.04 L155.20,454.07 L156.71,452.12 L158.22,450.17 L159.73,448.25 L161.24,446.33 L162.75,444.43 L164.26,442.55 L165.77,440.68 L167.28,438.82 L168.79,436.98 L170.30,435.15 L171.81,433.33 L173.32,431.53 L174.83,429.74 L176.34,427.97 L177.85,426.21 L179.36,424.46 L180.87,422.73 L182.38,421.00 L183.89,419.30 L185.41,417.60 L186.92,415.92 L188.43,414.25 L189.94,412.59 L191.45,410.95 L192.96,409.31 L194.47,407.69 L195.98,406.09 L197.49,404.49 L199.00,402.91 L200.51,401.34 L202.02,399.78 L203.53,398.23 L205.04,396.70 L206.55,395.17 L208.06,393.66 L209.57,392.16 L211.08,390.67 L212.59,389.20 L214.10,387.73 L215.61,386.28 L217.12,384.83 L218.63,383.40 L220.14,381.98 L221.65,380.57 L223.16,379.17 L224.67,377.78 L226.18,376.40 L227.69,375.04 L229.20,373.68 L230.71,372.33 L232.22,371.00 L233.73,369.67 L235.24,368.35 L236.75,367.05 L238.26,365.75 L239.77,364.47 L241.28,363.19 L242.79,361.92 L244.31,360.67 L245.82,359.42 L247.33,358.18 L248.84,356.95 L250.35,355.73 L251.86,354.52 L253.37,353.32 L254.88,352.13 L256.39,350.94 L257.90,349.77 L259.41,348.60 L260.92,347.45 L262.43,346.30 L263.94,345.16 L265.45,344.03 L266.96,342.91 L268.47,341.79 L269.98,340.68 L271.49,339.59 L273.00,338.49" fill="none" stroke="#c6c8de" stroke-width="2.20" stroke-linejoin="round" stroke-linecap="butt"/>
<path d="M92.20,548.60 L96.30,542.60 L97.81,539.86 L99.33,537.14 L100.84,534.44 L102.35,531.76 L103.86,529.10 L105.38,526.46 L106.89,523.85 L108.40,521.25 L109.91,518.67 L111.42,516.12 L112.94,513.58 L114.45,511.06 L115.96,508.57 L117.47,506.09 L118.99,503.63 L120.50,501.20 L122.01,498.78 L123.52,496.38 L125.04,494.00 L126.55,491.64 L128.06,489.29 L129.57,486.97 L131.09,484.66 L132.60,482.38 L134.11,480.11 L135.62,477.85 L137.14,475.62 L138.65,473.40 L140.16,471.21 L141.67,469.02 L143.19,466.86 L144.70,464.71 L146.21,462.58 L147.72,460.47 L149.24,458.38 L150.75,456.30 L152.26,454.23 L153.77,452.19 L155.29,450.16 L156.80,448.14 L158.31,446.15 L159.82,444.16 L161.34,442.20 L162.85,440.25 L164.36,438.31 L165.88,436.39 L167.39,434.48 L168.90,432.59 L170.41,430.72 L171.92,428.86 L173.44,427.01 L174.95,425.18 L176.46,423.36 L177.97,421.56 L179.49,419.77 L181.00,418.00 L182.51,416.23 L184.02,414.49 L185.54,412.75 L187.05,411.03 L188.56,409.32 L190.07,407.63 L191.59,405.95 L193.10,404.28 L194.61,402.62 L196.12,400.98 L197.64,399.35 L199.15,397.73 L200.66,396.12 L202.17,394.53 L203.69,392.95 L205.20,391.38 L206.71,389.82 L208.22,388.27 L209.74,386.73 L211.25,385.21 L212.76,383.69 L214.27,382.19 L215.79,380.70 L217.30,379.22 L218.81,377.74 L220.32,376.28 L221.84,374.83 L223.35,373.39 L224.86,371.96 L226.38,370.54 L227.89,369.13 L229.40,367.73 L230.91,366.34 L232.42,364.95 L233.94,363.58 L235.45,362.22 L236.96,360.86 L238.47,359.51 L239.99,358.17 L241.50,356.84 L243.01,355.52 L244.52,354.21 L246.04,352.90 L247.55,351.61 L249.06,350.32 L250.57,349.04 L252.09,347.76 L253.60,346.49 L255.11,345.23 L256.62,343.98 L258.14,342.74 L259.65,341.50 L261.16,340.27 L262.67,339.04 L264.19,337.82 L265.70,336.61" fill="none" stroke="#3b1e5e" stroke-width="1.60" stroke-linejoin="round" stroke-linecap="butt"/>
<path d="M92.20,548.60 L96.30,542.60 L97.80,539.93 L99.30,537.28 L100.80,534.66 L102.30,532.05 L103.80,529.46 L105.30,526.89 L106.80,524.33 L108.30,521.80 L109.80,519.29 L111.30,516.79 L112.80,514.31 L114.30,511.85 L115.80,509.41 L117.30,506.99 L118.80,504.58 L120.30,502.20 L121.80,499.83 L123.30,497.47 L124.80,495.14 L126.30,492.82 L127.80,490.52 L129.30,488.24 L130.80,485.98 L132.30,483.73 L133.80,481.50 L135.30,479.28 L136.80,477.09 L138.30,474.91 L139.80,472.74 L141.30,470.59 L142.80,468.46 L144.30,466.34 L145.80,464.24 L147.30,462.16 L148.80,460.09 L150.30,458.04 L151.80,456.00 L153.30,453.98 L154.80,451.98 L156.30,449.99 L157.80,448.01 L159.30,446.05 L160.80,444.10 L162.30,442.17 L163.80,440.26 L165.30,438.36 L166.80,436.47 L168.30,434.60 L169.80,432.74 L171.30,430.89 L172.80,429.06 L174.30,427.25 L175.80,425.44 L177.30,423.65 L178.80,421.88 L180.30,420.12 L181.80,418.37 L183.30,416.63 L184.80,414.91 L186.30,413.20 L187.80,411.51 L189.30,409.82 L190.80,408.15 L192.30,406.49 L193.80,404.85 L195.30,403.22 L196.80,401.60 L198.30,399.99 L199.80,398.39 L201.30,396.80 L202.80,395.23 L204.30,393.67 L205.80,392.12 L207.30,390.58 L208.80,389.06 L210.30,387.54 L211.80,386.04 L213.30,384.54 L214.80,383.06 L216.30,381.59 L217.80,380.13 L219.30,378.68 L220.80,377.24 L222.30,375.81 L223.80,374.39 L225.30,372.98 L226.80,371.58 L228.30,370.19 L229.80,368.81 L231.30,367.44 L232.80,366.08 L234.30,364.73 L235.80,363.39 L237.30,362.06 L238.80,360.74 L240.30,359.43 L241.80,358.12 L243.30,356.83 L244.80,355.54 L246.30,354.26 L247.80,352.99 L249.30,351.73 L250.80,350.48 L252.30,349.23 L253.80,347.99 L255.30,346.77 L256.80,345.54 L258.30,344.33 L259.80,343.13 L261.30,341.93 L262.80,340.74 L264.30,339.55 L265.80,338.38 L267.30,337.21" fill="none" stroke="#111111" stroke-width="2.30" stroke-linejoin="round" stroke-linecap="butt"/>
<path d="M92.20,548.60 L96.30,542.60 L97.81,539.82 L99.32,537.06 L100.84,534.32 L102.35,531.61 L103.86,528.91 L105.37,526.24 L106.88,523.59 L108.39,520.95 L109.91,518.34 L111.42,515.75 L112.93,513.18 L114.44,510.63 L115.95,508.10 L117.46,505.59 L118.98,503.10 L120.49,500.63 L122.00,498.18 L123.51,495.74 L125.02,493.33 L126.53,490.94 L128.05,488.56 L129.56,486.21 L131.07,483.87 L132.58,481.55 L134.09,479.25 L135.60,476.97 L137.12,474.71 L138.63,472.46 L140.14,470.23 L141.65,468.03 L143.16,465.83 L144.67,463.66 L146.19,461.50 L147.70,459.36 L149.21,457.24 L150.72,455.14 L152.23,453.05 L153.75,450.98 L155.26,448.92 L156.77,446.89 L158.28,444.86 L159.79,442.86 L161.30,440.87 L162.82,438.90 L164.33,436.94 L165.84,435.00 L167.35,433.07 L168.86,431.16 L170.37,429.27 L171.89,427.39 L173.40,425.52 L174.91,423.67 L176.42,421.84 L177.93,420.02 L179.44,418.21 L180.96,416.42 L182.47,414.64 L183.98,412.88 L185.49,411.13 L187.00,409.40 L188.51,407.68 L190.03,405.97 L191.54,404.28 L193.05,402.60 L194.56,400.93 L196.07,399.28 L197.58,397.63 L199.10,396.01 L200.61,394.39 L202.12,392.79 L203.63,391.20 L205.14,389.62 L206.65,388.05 L208.17,386.50 L209.68,384.96 L211.19,383.43 L212.70,381.91 L214.21,380.40 L215.73,378.91 L217.24,377.43 L218.75,375.95 L220.26,374.49 L221.77,373.04 L223.28,371.60 L224.80,370.17 L226.31,368.75 L227.82,367.34 L229.33,365.94 L230.84,364.56 L232.35,363.18 L233.87,361.81 L235.38,360.45 L236.89,359.10 L238.40,357.76 L239.91,356.43 L241.42,355.11 L242.94,353.80 L244.45,352.50 L245.96,351.20 L247.47,349.92 L248.98,348.64 L250.49,347.37 L252.01,346.11 L253.52,344.86 L255.03,343.61 L256.54,342.38 L258.05,341.15 L259.56,339.93 L261.08,338.71 L262.59,337.51 L264.10,336.31" fill="none" stroke="#f6bb3e" stroke-width="2.20" stroke-linejoin="round" stroke-linecap="butt"/>
<path d="M92.20,548.60 L96.30,542.60 L97.81,539.82 L99.32,537.06 L100.82,534.32 L102.33,531.60 L103.84,528.91 L105.35,526.23 L106.85,523.56 L108.36,520.92 L109.87,518.30 L111.38,515.70 L112.88,513.11 L114.39,510.55 L115.90,508.00 L117.41,505.47 L118.91,502.96 L120.42,500.47 L121.93,498.00 L123.44,495.54 L124.94,493.11 L126.45,490.69 L127.96,488.29 L129.47,485.90 L130.98,483.54 L132.48,481.19 L133.99,478.86 L135.50,476.55 L137.01,474.25 L138.51,471.97 L140.02,469.71 L141.53,467.46 L143.04,465.23 L144.54,463.02 L146.05,460.82 L147.56,458.64 L149.07,456.47 L150.57,454.33 L152.08,452.19 L153.59,450.08 L155.10,447.98 L156.60,445.89 L158.11,443.82 L159.62,441.77 L161.13,439.73 L162.64,437.71 L164.14,435.70 L165.65,433.70 L167.16,431.72 L168.67,429.76 L170.17,427.81 L171.68,425.87 L173.19,423.95 L174.70,422.05 L176.20,420.15 L177.71,418.27 L179.22,416.41 L180.73,414.56 L182.23,412.72 L183.74,410.90 L185.25,409.08 L186.76,407.29 L188.26,405.50 L189.77,403.73 L191.28,401.97 L192.79,400.23 L194.30,398.50 L195.80,396.78 L197.31,395.07 L198.82,393.37 L200.33,391.69 L201.83,390.02 L203.34,388.36 L204.85,386.71 L206.36,385.08 L207.86,383.46 L209.37,381.84 L210.88,380.24 L212.39,378.65 L213.89,377.08 L215.40,375.51 L216.91,373.95 L218.42,372.41 L219.92,370.88 L221.43,369.35 L222.94,367.84 L224.45,366.34 L225.96,364.84 L227.46,363.36 L228.97,361.89 L230.48,360.43 L231.99,358.98 L233.49,357.53 L235.00,356.10 L236.51,354.68 L238.02,353.26 L239.52,351.86 L241.03,350.46 L242.54,349.08 L244.05,347.70 L245.55,346.33 L247.06,344.97 L248.57,343.62 L250.08,342.28 L251.58,340.94 L253.09,339.62 L254.60,338.30" fill="none" stroke="#1f8f8f" stroke-width="1.40" stroke-linejoin="round" stroke-linecap="butt"/>
<path d="M92.20,548.60 L96.30,542.60 L97.81,539.80 L99.31,537.02 L100.82,534.26 L102.33,531.52 L103.83,528.80 L105.34,526.09 L106.85,523.41 L108.35,520.75 L109.86,518.11 L111.37,515.49 L112.87,512.88 L114.38,510.30 L115.89,507.73 L117.39,505.19 L118.90,502.66 L120.41,500.15 L121.91,497.66 L123.42,495.19 L124.93,492.73 L126.43,490.30 L127.94,487.88 L129.45,485.48 L130.95,483.10 L132.46,480.73 L133.97,478.39 L135.47,476.06 L136.98,473.74 L138.49,471.45 L140.00,469.17 L141.50,466.91 L143.01,464.67 L144.52,462.44 L146.02,460.23 L147.53,458.03 L149.04,455.86 L150.54,453.69 L152.05,451.55 L153.56,449.42 L155.06,447.30 L156.57,445.21 L158.08,443.12 L159.58,441.05 L161.09,439.00 L162.60,436.97 L164.10,434.94 L165.61,432.94 L167.12,430.95 L168.62,428.97 L170.13,427.01 L171.64,425.06 L173.14,423.12 L174.65,421.20 L176.16,419.30 L177.66,417.41 L179.17,415.53 L180.68,413.67 L182.18,411.82 L183.69,409.98 L185.20,408.16 L186.70,406.35 L188.21,404.55 L189.72,402.77 L191.22,401.00 L192.73,399.24 L194.24,397.49 L195.74,395.76 L197.25,394.04 L198.76,392.33 L200.26,390.63 L201.77,388.95 L203.28,387.28 L204.78,385.62 L206.29,383.97 L207.80,382.33 L209.30,380.71 L210.81,379.09 L212.32,377.49 L213.82,375.90 L215.33,374.32 L216.84,372.75 L218.35,371.19 L219.85,369.64 L221.36,368.10 L222.87,366.57 L224.37,365.05 L225.88,363.55 L227.39,362.05 L228.89,360.56 L230.40,359.08 L231.91,357.61 L233.41,356.15 L234.92,354.70 L236.43,353.26 L237.93,351.83 L239.44,350.41 L240.95,349.00 L242.45,347.59 L243.96,346.20 L245.47,344.81 L246.97,343.43 L248.48,342.06 L249.99,340.70 L251.49,339.34 L253.00,337.99" fill="none" stroke="#2e9a48" stroke-width="1.40" stroke-linejoin="round" stroke-linecap="butt"/>
<path d="M92.20,548.60 L96.30,542.60 L97.81,539.76 L99.33,536.94 L100.84,534.15 L102.35,531.37 L103.87,528.61 L105.38,525.88 L106.90,523.16 L108.41,520.47 L109.92,517.79 L111.44,515.13 L112.95,512.50 L114.46,509.88 L115.98,507.28 L117.49,504.70 L119.01,502.14 L120.52,499.60 L122.03,497.08 L123.55,494.58 L125.06,492.09 L126.57,489.63 L128.09,487.18 L129.60,484.75 L131.12,482.34 L132.63,479.95 L134.14,477.57 L135.66,475.21 L137.17,472.87 L138.68,470.55 L140.20,468.24 L141.71,465.95 L143.23,463.68 L144.74,461.42 L146.25,459.19 L147.77,456.96 L149.28,454.76 L150.79,452.57 L152.31,450.40 L153.82,448.24 L155.34,446.10 L156.85,443.97 L158.36,441.86 L159.88,439.77 L161.39,437.69 L162.90,435.63 L164.42,433.58 L165.93,431.55 L167.45,429.53 L168.96,427.53 L170.47,425.54 L171.99,423.56 L173.50,421.60 L175.01,419.66 L176.53,417.72 L178.04,415.81 L179.55,413.90 L181.07,412.01 L182.58,410.14 L184.10,408.27 L185.61,406.42 L187.12,404.59 L188.64,402.76 L190.15,400.95 L191.66,399.15 L193.18,397.37 L194.69,395.59 L196.21,393.83 L197.72,392.08 L199.23,390.35 L200.75,388.62 L202.26,386.91 L203.77,385.21 L205.29,383.52 L206.80,381.84 L208.32,380.18 L209.83,378.52 L211.34,376.88 L212.86,375.25 L214.37,373.62 L215.88,372.01 L217.40,370.41 L218.91,368.82 L220.43,367.24 L221.94,365.67 L223.45,364.11 L224.97,362.56 L226.48,361.02 L227.99,359.49 L229.51,357.97 L231.02,356.45 L232.54,354.95 L234.05,353.46 L235.56,351.97 L237.08,350.50 L238.59,349.03 L240.10,347.57 L241.62,346.12 L243.13,344.68 L244.65,343.24 L246.16,341.82 L247.67,340.40 L249.19,338.99 L250.70,337.59" fill="none" stroke="#ee2d24" stroke-width="2.40" stroke-linejoin="round" stroke-linecap="butt"/>
<g transform="translate(67.71,344.00) scale(1.0000,1)" fill="#1b1b26" stroke="#1b1b26" stroke-width="0.30" font-size="11.50"><text x="0.00" y="0" xml:space="preserve">150</text></g>
<g transform="translate(67.71,385.00) scale(1.0000,1)" fill="#1b1b26" stroke="#1b1b26" stroke-width="0.30" font-size="11.50"><text x="0.00" y="0" xml:space="preserve">120</text></g>
<g transform="translate(74.11,427.30) scale(1.0000,1)" fill="#1b1b26" stroke="#1b1b26" stroke-width="0.30" font-size="11.50"><text x="0.00" y="0" xml:space="preserve">90</text></g>
<g transform="translate(74.11,469.50) scale(1.0000,1)" fill="#1b1b26" stroke="#1b1b26" stroke-width="0.30" font-size="11.50"><text x="0.00" y="0" xml:space="preserve">60</text></g>
<g transform="translate(74.11,510.20) scale(1.0000,1)" fill="#1b1b26" stroke="#1b1b26" stroke-width="0.30" font-size="11.50"><text x="0.00" y="0" xml:space="preserve">30</text></g>
<g transform="translate(80.90,551.80) scale(1.0000,1)" fill="#1b1b26" stroke="#1b1b26" stroke-width="0.30" font-size="11.50"><text x="0.00" y="0" xml:space="preserve">0</text></g>
<g transform="translate(91.10,562.60) scale(1.0000,1)" fill="#1b1b26" stroke="#1b1b26" stroke-width="0.30" font-size="11.50"><text x="0.00" y="0" xml:space="preserve">0</text></g>
<g transform="translate(121.29,562.60) scale(1.0000,1)" fill="#1b1b26" stroke="#1b1b26" stroke-width="0.30" font-size="11.50"><text x="0.00" y="0" xml:space="preserve">1</text></g>
<g transform="translate(151.48,562.60) scale(1.0000,1)" fill="#1b1b26" stroke="#1b1b26" stroke-width="0.30" font-size="11.50"><text x="0.00" y="0" xml:space="preserve">2</text></g>
<g transform="translate(181.67,562.60) scale(1.0000,1)" fill="#1b1b26" stroke="#1b1b26" stroke-width="0.30" font-size="11.50"><text x="0.00" y="0" xml:space="preserve">3</text></g>
<g transform="translate(211.86,562.60) scale(1.0000,1)" fill="#1b1b26" stroke="#1b1b26" stroke-width="0.30" font-size="11.50"><text x="0.00" y="0" xml:space="preserve">4</text></g>
<g transform="translate(242.05,562.60) scale(1.0000,1)" fill="#1b1b26" stroke="#1b1b26" stroke-width="0.30" font-size="11.50"><text x="0.00" y="0" xml:space="preserve">5</text></g>
<g transform="translate(272.24,562.60) scale(1.0000,1)" fill="#1b1b26" stroke="#1b1b26" stroke-width="0.30" font-size="11.50"><text x="0.00" y="0" xml:space="preserve">6</text></g>
<g transform="translate(302.43,562.60) scale(1.0000,1)" fill="#1b1b26" stroke="#1b1b26" stroke-width="0.30" font-size="11.50"><text x="0.00" y="0" xml:space="preserve">7</text></g>
<g transform="translate(332.62,562.60) scale(1.0000,1)" fill="#1b1b26" stroke="#1b1b26" stroke-width="0.30" font-size="11.50"><text x="0.00" y="0" xml:space="preserve">8</text></g>
<g transform="translate(362.81,562.60) scale(1.0000,1)" fill="#1b1b26" stroke="#1b1b26" stroke-width="0.30" font-size="11.50"><text x="0.00" y="0" xml:space="preserve">9</text></g>
<g transform="translate(390.40,562.60) scale(1.0000,1)" fill="#1b1b26" stroke="#1b1b26" stroke-width="0.30" font-size="11.50"><text x="0.00" y="0" xml:space="preserve">10</text></g>
<g transform="translate(61.50,509.90) rotate(-90) scale(1.0140,1)" fill="#1b1b26" stroke="#1b1b26" stroke-width="0.30" font-size="11.50"><text x="0.00" y="0" xml:space="preserve">I</text><text x="3.20" y="2.60" font-size="9.20" xml:space="preserve">D</text><text x="9.88" y="0" xml:space="preserve">, DRAIN CURRENT (A)</text></g>
<g transform="translate(133.30,580.80) scale(1.0212,1)" fill="#1b1b26" stroke="#1b1b26" stroke-width="0.30" font-size="11.50"><text x="0.00" y="0" xml:space="preserve">V</text><text x="7.67" y="2.90" font-size="8.86" xml:space="preserve">DS</text><text x="20.00" y="0" xml:space="preserve">, DRAIN–TO–SOURCE VOLTAGE (V)</text></g>
<g transform="translate(197.40,597.80) scale(1.0080,1)" fill="#1b1b26" stroke="#1b1b26" stroke-width="0.18" font-size="13.00" font-weight="bold"><text x="0.00" y="0" xml:space="preserve">MOSFET Typical Output</text></g>
<g transform="translate(166.40,614.30) scale(1.0140,1)" fill="#1b1b26" stroke="#1b1b26" stroke-width="0.18" font-size="13.00" font-weight="bold"><text x="0.00" y="0" xml:space="preserve">Characteristic V</text><text x="99.00" y="3.00" font-size="9.88" xml:space="preserve">GS</text><text x="113.26" y="0" xml:space="preserve"> </text><rect x="117.49" y="-2.87" width="6.37" height="1.46" stroke="none"/><rect x="117.49" y="-5.56" width="6.37" height="1.46" stroke="none"/><text x="124.47" y="0" xml:space="preserve"> var.</text></g>
<rect x="97.30" y="342.70" width="107.10" height="34.50" fill="#fff" stroke="#111" stroke-width="1.00"/>
<g transform="translate(104.80,358.80) scale(1.0198,1)" fill="#1b1b26" stroke="#1b1b26" stroke-width="0.30" font-size="11.50"><text x="0.00" y="0" xml:space="preserve">V</text><text x="7.67" y="1.90" font-size="8.97" xml:space="preserve">GS</text><text x="20.67" y="0" xml:space="preserve"> </text><rect x="24.44" y="-2.30" width="5.58" height="1.24" stroke="none"/><rect x="24.44" y="-4.36" width="5.58" height="1.24" stroke="none"/><text x="30.59" y="0" xml:space="preserve"> 20 V to 10 V</text></g>
<g transform="translate(104.80,372.60) scale(1.0150,1)" fill="#1b1b26" stroke="#1b1b26" stroke-width="0.30" font-size="11.50"><text x="0.00" y="0" xml:space="preserve">step 1 V</text></g>
<rect x="309.30" y="520.10" width="72.20" height="19.10" fill="#fff" stroke="#111" stroke-width="1.00"/>
<g transform="translate(315.40,532.70) scale(0.9971,1)" fill="#1b1b26" stroke="#1b1b26" stroke-width="0.30" font-size="11.50"><text x="0.00" y="0" xml:space="preserve">T</text><text x="7.03" y="3.40" font-size="9.89" xml:space="preserve">J</text><text x="11.96" y="0" xml:space="preserve"> </text><rect x="15.73" y="-2.30" width="5.58" height="1.24" stroke="none"/><rect x="15.73" y="-4.36" width="5.58" height="1.24" stroke="none"/><text x="21.88" y="0" xml:space="preserve"> 150</text><text x="44.49" y="-0.40" font-size="10.81" stroke-width="0.05">°</text><text x="48.86" y="0" xml:space="preserve">C</text></g>
<g transform="translate(127.60,409.90) scale(1.0060,1)" fill="#1b1b26" stroke="#1b1b26" stroke-width="0.30" font-size="11.50"><text x="0.00" y="0" xml:space="preserve">20 V</text></g>
<g transform="translate(256.00,409.90) scale(0.9806,1)" fill="#1b1b26" stroke="#1b1b26" stroke-width="0.30" font-size="11.50"><text x="0.00" y="0" xml:space="preserve">10 V</text></g>
<line x1="156.20" y1="405.10" x2="178.50" y2="405.10" stroke="#111" stroke-width="1.50" stroke-linecap="butt"/>
<path d="M184.6,405.1 L175.2,402.2 L177.2,405.1 L175.2,408.0 Z" fill="#111" stroke="#111" stroke-width="0.4" stroke-linejoin="miter"/>
<line x1="225.00" y1="405.10" x2="248.40" y2="405.10" stroke="#111" stroke-width="1.50" stroke-linecap="butt"/>
<path d="M218.6,405.1 L228.2,402.2 L226.2,405.1 L228.2,408.0 Z" fill="#111" stroke="#111" stroke-width="0.4" stroke-linejoin="miter"/>
<line x1="510.06" y1="339.10" x2="510.06" y2="549.60" stroke="#858585" stroke-width="0.95" stroke-linecap="butt"/>
<line x1="553.11" y1="339.10" x2="553.11" y2="549.60" stroke="#858585" stroke-width="0.95" stroke-linecap="butt"/>
<line x1="596.17" y1="339.10" x2="596.17" y2="549.60" stroke="#858585" stroke-width="0.95" stroke-linecap="butt"/>
<line x1="639.23" y1="339.10" x2="639.23" y2="549.60" stroke="#858585" stroke-width="0.95" stroke-linecap="butt"/>
<line x1="682.29" y1="339.10" x2="682.29" y2="549.60" stroke="#858585" stroke-width="0.95" stroke-linecap="butt"/>
<line x1="725.34" y1="339.10" x2="725.34" y2="549.60" stroke="#858585" stroke-width="0.95" stroke-linecap="butt"/>
<line x1="467.00" y1="374.18" x2="768.40" y2="374.18" stroke="#858585" stroke-width="0.95" stroke-linecap="butt"/>
<line x1="467.00" y1="409.27" x2="768.40" y2="409.27" stroke="#858585" stroke-width="0.95" stroke-linecap="butt"/>
<line x1="467.00" y1="444.35" x2="768.40" y2="444.35" stroke="#858585" stroke-width="0.95" stroke-linecap="butt"/>
<line x1="467.00" y1="479.43" x2="768.40" y2="479.43" stroke="#858585" stroke-width="0.95" stroke-linecap="butt"/>
<line x1="467.00" y1="514.52" x2="768.40" y2="514.52" stroke="#858585" stroke-width="0.95" stroke-linecap="butt"/>
<line x1="467.00" y1="339.10" x2="769.00" y2="339.10" stroke="#6e6e6e" stroke-width="1.50" stroke-linecap="butt"/>
<line x1="768.40" y1="339.10" x2="768.40" y2="549.60" stroke="#858585" stroke-width="1.30" stroke-linecap="butt"/>
<line x1="467.10" y1="338.60" x2="467.10" y2="550.50" stroke="#0d0d0d" stroke-width="1.70" stroke-linecap="butt"/>
<line x1="466.10" y1="549.60" x2="768.80" y2="549.60" stroke="#0d0d0d" stroke-width="1.90" stroke-linecap="butt"/>
<path d="M467.00,549.50 L468.50,549.50 L470.00,549.50 L471.51,549.50 L473.01,549.50 L474.51,549.50 L476.01,549.50 L477.52,549.50 L479.02,549.50 L480.52,549.50 L482.02,549.50 L483.52,549.50 L485.03,549.50 L486.53,549.50 L488.03,549.50 L489.53,549.50 L491.04,549.50 L492.54,549.50 L494.04,549.50 L495.54,549.50 L497.05,549.50 L498.55,549.50 L500.05,549.50 L501.55,549.50 L503.05,549.50 L504.56,549.50 L506.06,549.50 L507.56,549.50 L509.06,549.50 L510.57,549.50 L512.07,549.50 L513.57,549.50 L515.07,549.50 L516.58,549.50 L518.08,549.50 L519.58,549.50 L521.08,549.50 L522.58,549.50 L524.09,549.50 L525.59,549.50 L527.09,549.50 L528.59,549.50 L530.10,549.50 L531.60,549.50 L533.10,549.50 L534.60,549.50 L536.10,549.50 L537.61,549.50 L539.11,549.50 L540.61,549.50 L542.11,549.50 L543.62,549.50 L545.12,549.50 L546.62,549.50 L548.12,549.50 L549.62,549.50 L551.13,549.50 L552.63,549.50 L554.13,549.50 L555.63,549.50 L557.14,549.50 L558.64,549.50 L560.14,549.50 L561.64,549.49 L563.15,549.44 L564.65,549.36 L566.15,549.25 L567.65,549.10 L569.15,548.91 L570.66,548.69 L572.16,548.44 L573.66,548.15 L575.16,547.83 L576.67,547.47 L578.17,547.08 L579.67,546.66 L581.17,546.20 L582.67,545.71 L584.18,545.18 L585.68,544.62 L587.18,544.03 L588.68,543.41 L590.19,542.76 L591.69,542.07 L593.19,541.35 L594.69,540.59 L596.20,539.81 L597.70,538.99 L599.20,538.14 L600.70,537.26 L602.20,536.35 L603.71,535.41 L605.21,534.43 L606.71,533.42 L608.21,532.38 L609.72,531.31 L611.22,530.21 L612.72,529.08 L614.22,527.91 L615.73,526.72 L617.23,525.49 L618.73,524.24 L620.23,522.95 L621.73,521.63 L623.24,520.28 L624.74,518.90 L626.24,517.49 L627.74,516.04 L629.25,514.57 L630.75,513.06 L632.25,511.53 L633.75,509.96 L635.25,508.37 L636.76,506.74 L638.26,505.08 L639.76,503.39 L641.26,501.67 L642.77,499.92 L644.27,498.14 L645.77,496.32 L647.27,494.48 L648.77,492.60 L650.28,490.70 L651.78,488.76 L653.28,486.79 L654.78,484.79 L656.29,482.76 L657.79,480.70 L659.29,478.61 L660.79,476.48 L662.30,474.32 L663.80,472.13 L665.30,469.91 L666.80,467.66 L668.30,465.38 L669.81,463.06 L671.31,460.71 L672.81,458.33 L674.31,455.92 L675.82,453.47 L677.32,450.99 L678.82,448.48 L680.32,445.94 L681.83,443.36 L683.33,440.75 L684.83,438.11 L686.33,435.43 L687.83,432.72 L689.34,429.98 L690.84,427.20 L692.34,424.38 L693.84,421.54 L695.35,418.66 L696.85,415.74 L698.35,412.79 L699.85,409.80 L701.35,406.78 L702.86,403.73 L704.36,400.63 L705.86,397.51 L707.36,394.34 L708.87,391.14 L710.37,387.91 L711.87,384.63 L713.37,381.32 L714.88,377.98 L716.38,374.59 L717.88,371.17 L719.38,367.71 L720.88,364.21 L722.39,360.67 L723.89,357.10 L725.39,353.49 L726.89,349.83 L728.40,346.14 L729.90,342.41 L731.40,338.64" fill="none" stroke="#2f6cc0" stroke-width="1.80" stroke-linejoin="round" stroke-linecap="butt"/>
<path d="M467.00,549.50 L468.50,549.50 L470.00,549.50 L471.51,549.50 L473.01,549.50 L474.51,549.50 L476.01,549.50 L477.52,549.50 L479.02,549.50 L480.52,549.50 L482.02,549.50 L483.53,549.50 L485.03,549.50 L486.53,549.50 L488.03,549.50 L489.54,549.50 L491.04,549.50 L492.54,549.50 L494.04,549.50 L495.55,549.50 L497.05,549.50 L498.55,549.50 L500.05,549.50 L501.55,549.50 L503.06,549.50 L504.56,549.50 L506.06,549.50 L507.56,549.50 L509.07,549.50 L510.57,549.50 L512.07,549.50 L513.57,549.50 L515.08,549.50 L516.58,549.50 L518.08,549.50 L519.58,549.50 L521.09,549.50 L522.59,549.50 L524.09,549.50 L525.59,549.50 L527.10,549.50 L528.60,549.50 L530.10,549.50 L531.60,549.50 L533.10,549.50 L534.61,549.50 L536.11,549.50 L537.61,549.50 L539.11,549.50 L540.62,549.50 L542.12,549.50 L543.62,549.50 L545.12,549.50 L546.63,549.49 L548.13,549.45 L549.63,549.38 L551.13,549.30 L552.64,549.18 L554.14,549.05 L555.64,548.88 L557.14,548.70 L558.65,548.48 L560.15,548.24 L561.65,547.98 L563.15,547.69 L564.65,547.37 L566.16,547.02 L567.66,546.65 L569.16,546.26 L570.66,545.83 L572.17,545.38 L573.67,544.90 L575.17,544.39 L576.67,543.86 L578.18,543.29 L579.68,542.70 L581.18,542.08 L582.68,541.44 L584.19,540.76 L585.69,540.05 L587.19,539.32 L588.69,538.55 L590.20,537.76 L591.70,536.94 L593.20,536.08 L594.70,535.20 L596.20,534.29 L597.71,533.34 L599.21,532.37 L600.71,531.36 L602.21,530.33 L603.72,529.26 L605.22,528.16 L606.72,527.03 L608.22,525.87 L609.73,524.67 L611.23,523.45 L612.73,522.19 L614.23,520.90 L615.74,519.57 L617.24,518.21 L618.74,516.82 L620.24,515.40 L621.75,513.94 L623.25,512.45 L624.75,510.93 L626.25,509.37 L627.75,507.78 L629.26,506.15 L630.76,504.49 L632.26,502.79 L633.76,501.06 L635.27,499.29 L636.77,497.49 L638.27,495.65 L639.77,493.78 L641.28,491.87 L642.78,489.93 L644.28,487.94 L645.78,485.92 L647.29,483.87 L648.79,481.78 L650.29,479.65 L651.79,477.48 L653.30,475.27 L654.80,473.03 L656.30,470.75 L657.80,468.43 L659.30,466.08 L660.81,463.68 L662.31,461.25 L663.81,458.77 L665.31,456.26 L666.82,453.71 L668.32,451.12 L669.82,448.49 L671.32,445.82 L672.83,443.11 L674.33,440.35 L675.83,437.56 L677.33,434.73 L678.84,431.86 L680.34,428.94 L681.84,425.99 L683.34,422.99 L684.85,419.95 L686.35,416.87 L687.85,413.74 L689.35,410.58 L690.85,407.37 L692.36,404.12 L693.86,400.83 L695.36,397.49 L696.86,394.11 L698.37,390.69 L699.87,387.22 L701.37,383.71 L702.87,380.15 L704.38,376.55 L705.88,372.91 L707.38,369.22 L708.88,365.48 L710.39,361.71 L711.89,357.88 L713.39,354.01 L714.89,350.09 L716.40,346.13 L717.90,342.12 L719.40,338.07" fill="none" stroke="#f0352f" stroke-width="2.00" stroke-linejoin="round" stroke-linecap="butt"/>
<path d="M467.00,549.50 L468.50,549.50 L470.00,549.50 L471.51,549.50 L473.01,549.50 L474.51,549.50 L476.01,549.50 L477.51,549.50 L479.01,549.50 L480.52,549.50 L482.02,549.50 L483.52,549.50 L485.02,549.50 L486.52,549.50 L488.03,549.50 L489.53,549.50 L491.03,549.50 L492.53,549.50 L494.03,549.50 L495.53,549.50 L497.04,549.50 L498.54,549.50 L500.04,549.50 L501.54,549.50 L503.04,549.50 L504.55,549.50 L506.05,549.50 L507.55,549.50 L509.05,549.50 L510.55,549.50 L512.05,549.50 L513.56,549.50 L515.06,549.50 L516.56,549.50 L518.06,549.50 L519.56,549.50 L521.07,549.50 L522.57,549.50 L524.07,549.50 L525.57,549.50 L527.07,549.50 L528.57,549.50 L530.08,549.50 L531.58,549.50 L533.08,549.50 L534.58,549.50 L536.08,549.50 L537.58,549.50 L539.09,549.50 L540.59,549.50 L542.09,549.50 L543.59,549.50 L545.09,549.50 L546.60,549.48 L548.10,549.44 L549.60,549.37 L551.10,549.27 L552.60,549.14 L554.10,548.98 L555.61,548.79 L557.11,548.58 L558.61,548.34 L560.11,548.07 L561.61,547.77 L563.12,547.44 L564.62,547.08 L566.12,546.69 L567.62,546.28 L569.12,545.84 L570.62,545.36 L572.13,544.86 L573.63,544.33 L575.13,543.77 L576.63,543.18 L578.13,542.56 L579.64,541.92 L581.14,541.24 L582.64,540.53 L584.14,539.79 L585.64,539.03 L587.14,538.23 L588.65,537.41 L590.15,536.55 L591.65,535.66 L593.15,534.75 L594.65,533.80 L596.16,532.82 L597.66,531.81 L599.16,530.77 L600.66,529.70 L602.16,528.60 L603.66,527.47 L605.17,526.30 L606.67,525.11 L608.17,523.88 L609.67,522.62 L611.17,521.33 L612.68,520.00 L614.18,518.65 L615.68,517.26 L617.18,515.84 L618.68,514.38 L620.18,512.90 L621.69,511.37 L623.19,509.82 L624.69,508.23 L626.19,506.61 L627.69,504.95 L629.20,503.26 L630.70,501.54 L632.20,499.78 L633.70,497.99 L635.20,496.16 L636.70,494.29 L638.21,492.39 L639.71,490.46 L641.21,488.48 L642.71,486.48 L644.21,484.43 L645.72,482.35 L647.22,480.23 L648.72,478.08 L650.22,475.88 L651.72,473.65 L653.22,471.38 L654.73,469.08 L656.23,466.73 L657.73,464.35 L659.23,461.92 L660.73,459.46 L662.23,456.96 L663.74,454.42 L665.24,451.84 L666.74,449.21 L668.24,446.55 L669.74,443.85 L671.25,441.10 L672.75,438.31 L674.25,435.48 L675.75,432.61 L677.25,429.70 L678.75,426.74 L680.26,423.74 L681.76,420.70 L683.26,417.61 L684.76,414.48 L686.26,411.30 L687.77,408.08 L689.27,404.81 L690.77,401.50 L692.27,398.14 L693.77,394.74 L695.27,391.29 L696.78,387.79 L698.28,384.25 L699.78,380.65 L701.28,377.01 L702.78,373.32 L704.29,369.59 L705.79,365.80 L707.29,361.96 L708.79,358.08 L710.29,354.14 L711.79,350.15 L713.30,346.11 L714.80,342.02 L716.30,337.88" fill="none" stroke="#2ea84e" stroke-width="1.75" stroke-linejoin="round" stroke-linecap="butt"/>
<g transform="translate(443.61,344.00) scale(1.0000,1)" fill="#1b1b26" stroke="#1b1b26" stroke-width="0.30" font-size="11.50"><text x="0.00" y="0" xml:space="preserve">150</text></g>
<g transform="translate(443.61,378.10) scale(1.0000,1)" fill="#1b1b26" stroke="#1b1b26" stroke-width="0.30" font-size="11.50"><text x="0.00" y="0" xml:space="preserve">125</text></g>
<g transform="translate(443.61,412.00) scale(1.0000,1)" fill="#1b1b26" stroke="#1b1b26" stroke-width="0.30" font-size="11.50"><text x="0.00" y="0" xml:space="preserve">100</text></g>
<g transform="translate(450.01,446.50) scale(1.0000,1)" fill="#1b1b26" stroke="#1b1b26" stroke-width="0.30" font-size="11.50"><text x="0.00" y="0" xml:space="preserve">75</text></g>
<g transform="translate(450.01,481.50) scale(1.0000,1)" fill="#1b1b26" stroke="#1b1b26" stroke-width="0.30" font-size="11.50"><text x="0.00" y="0" xml:space="preserve">50</text></g>
<g transform="translate(450.01,516.00) scale(1.0000,1)" fill="#1b1b26" stroke="#1b1b26" stroke-width="0.30" font-size="11.50"><text x="0.00" y="0" xml:space="preserve">25</text></g>
<g transform="translate(456.40,550.00) scale(1.0000,1)" fill="#1b1b26" stroke="#1b1b26" stroke-width="0.30" font-size="11.50"><text x="0.00" y="0" xml:space="preserve">0</text></g>
<g transform="translate(457.31,562.70) scale(1.0000,1)" fill="#1b1b26" stroke="#1b1b26" stroke-width="0.30" font-size="11.50"><text x="0.00" y="0" xml:space="preserve">0.00</text></g>
<g transform="translate(499.89,562.70) scale(1.0000,1)" fill="#1b1b26" stroke="#1b1b26" stroke-width="0.30" font-size="11.50"><text x="0.00" y="0" xml:space="preserve">1.00</text></g>
<g transform="translate(542.47,562.70) scale(1.0000,1)" fill="#1b1b26" stroke="#1b1b26" stroke-width="0.30" font-size="11.50"><text x="0.00" y="0" xml:space="preserve">2.00</text></g>
<g transform="translate(585.05,562.70) scale(1.0000,1)" fill="#1b1b26" stroke="#1b1b26" stroke-width="0.30" font-size="11.50"><text x="0.00" y="0" xml:space="preserve">3.00</text></g>
<g transform="translate(627.63,562.70) scale(1.0000,1)" fill="#1b1b26" stroke="#1b1b26" stroke-width="0.30" font-size="11.50"><text x="0.00" y="0" xml:space="preserve">4.00</text></g>
<g transform="translate(670.21,562.70) scale(1.0000,1)" fill="#1b1b26" stroke="#1b1b26" stroke-width="0.30" font-size="11.50"><text x="0.00" y="0" xml:space="preserve">5.00</text></g>
<g transform="translate(712.79,562.70) scale(1.0000,1)" fill="#1b1b26" stroke="#1b1b26" stroke-width="0.30" font-size="11.50"><text x="0.00" y="0" xml:space="preserve">6.00</text></g>
<g transform="translate(750.56,562.70) scale(1.0000,1)" fill="#1b1b26" stroke="#1b1b26" stroke-width="0.30" font-size="11.50"><text x="0.00" y="0" xml:space="preserve">7.00</text></g>
<g transform="translate(423.00,522.60) rotate(-90) scale(1.0117,1)" fill="#1b1b26" stroke="#1b1b26" stroke-width="0.30" font-size="11.50"><text x="0.00" y="0" xml:space="preserve">I</text><text x="3.20" y="2.60" font-size="9.20" xml:space="preserve">SD</text><text x="16.04" y="0" xml:space="preserve">, FORWARD CURRENT (A)</text></g>
<g transform="translate(536.20,580.60) scale(1.0232,1)" fill="#1b1b26" stroke="#1b1b26" stroke-width="0.30" font-size="11.50"><text x="0.00" y="0" xml:space="preserve">V</text><text x="7.67" y="2.90" font-size="8.86" xml:space="preserve">SD</text><text x="20.00" y="0" xml:space="preserve">, FORWARD VOLTAGE (V)</text></g>
<g transform="translate(536.90,597.80) scale(1.0117,1)" fill="#1b1b26" stroke="#1b1b26" stroke-width="0.18" font-size="13.00" font-weight="bold"><text x="0.00" y="0" xml:space="preserve">Body Diode Forward Characteristic</text></g>
<rect x="473.50" y="345.70" width="73.00" height="19.90" fill="#fff" stroke="#111" stroke-width="1.00"/>
<g transform="translate(478.90,359.20) scale(1.0173,1)" fill="#1b1b26" stroke="#1b1b26" stroke-width="0.30" font-size="11.50"><text x="0.00" y="0" xml:space="preserve">V</text><text x="7.67" y="1.90" font-size="8.97" xml:space="preserve">DS</text><text x="20.17" y="0" xml:space="preserve"> </text><rect x="23.94" y="-2.30" width="5.58" height="1.24" stroke="none"/><rect x="23.94" y="-4.36" width="5.58" height="1.24" stroke="none"/><text x="30.09" y="0" xml:space="preserve">  −3 V</text></g>
<rect x="471.60" y="375.50" width="108.20" height="48.50" fill="#fff" stroke="#111" stroke-width="1.00"/>
<line x1="475.20" y1="385.00" x2="508.80" y2="385.00" stroke="#2a5fb0" stroke-width="1.35" stroke-linecap="butt"/>
<line x1="475.20" y1="401.00" x2="508.80" y2="401.00" stroke="#e8302c" stroke-width="1.40" stroke-linecap="butt"/>
<line x1="475.20" y1="416.50" x2="508.80" y2="416.50" stroke="#279a48" stroke-width="1.60" stroke-linecap="butt"/>
<g transform="translate(513.90,391.60) scale(1.0065,1)" fill="#1b1b26" stroke="#1b1b26" stroke-width="0.30" font-size="11.50"><text x="0.00" y="0" xml:space="preserve">T</text><text x="7.03" y="3.40" font-size="9.89" xml:space="preserve">J</text><text x="11.96" y="0" xml:space="preserve"> </text><rect x="15.73" y="-2.30" width="5.58" height="1.24" stroke="none"/><rect x="15.73" y="-4.36" width="5.58" height="1.24" stroke="none"/><text x="21.88" y="0" xml:space="preserve"> 25</text><text x="38.09" y="-0.40" font-size="10.81" stroke-width="0.05">°</text><text x="42.46" y="0" xml:space="preserve">C</text></g>
<g transform="translate(513.90,406.60) scale(1.0024,1)" fill="#1b1b26" stroke="#1b1b26" stroke-width="0.30" font-size="11.50"><text x="0.00" y="0" xml:space="preserve">T</text><text x="7.03" y="3.40" font-size="9.89" xml:space="preserve">J</text><text x="11.96" y="0" xml:space="preserve"> </text><rect x="15.73" y="-2.30" width="5.58" height="1.24" stroke="none"/><rect x="15.73" y="-4.36" width="5.58" height="1.24" stroke="none"/><text x="21.88" y="0" xml:space="preserve"> 125</text><text x="44.49" y="-0.40" font-size="10.81" stroke-width="0.05">°</text><text x="48.86" y="0" xml:space="preserve">C</text></g>
<g transform="translate(513.90,421.40) scale(1.0024,1)" fill="#1b1b26" stroke="#1b1b26" stroke-width="0.30" font-size="11.50"><text x="0.00" y="0" xml:space="preserve">T</text><text x="7.03" y="3.40" font-size="9.89" xml:space="preserve">J</text><text x="11.96" y="0" xml:space="preserve"> </text><rect x="15.73" y="-2.30" width="5.58" height="1.24" stroke="none"/><rect x="15.73" y="-4.36" width="5.58" height="1.24" stroke="none"/><text x="21.88" y="0" xml:space="preserve"> 150</text><text x="44.49" y="-0.40" font-size="10.81" stroke-width="0.05">°</text><text x="48.86" y="0" xml:space="preserve">C</text></g>
</svg>
</body>
</html>
